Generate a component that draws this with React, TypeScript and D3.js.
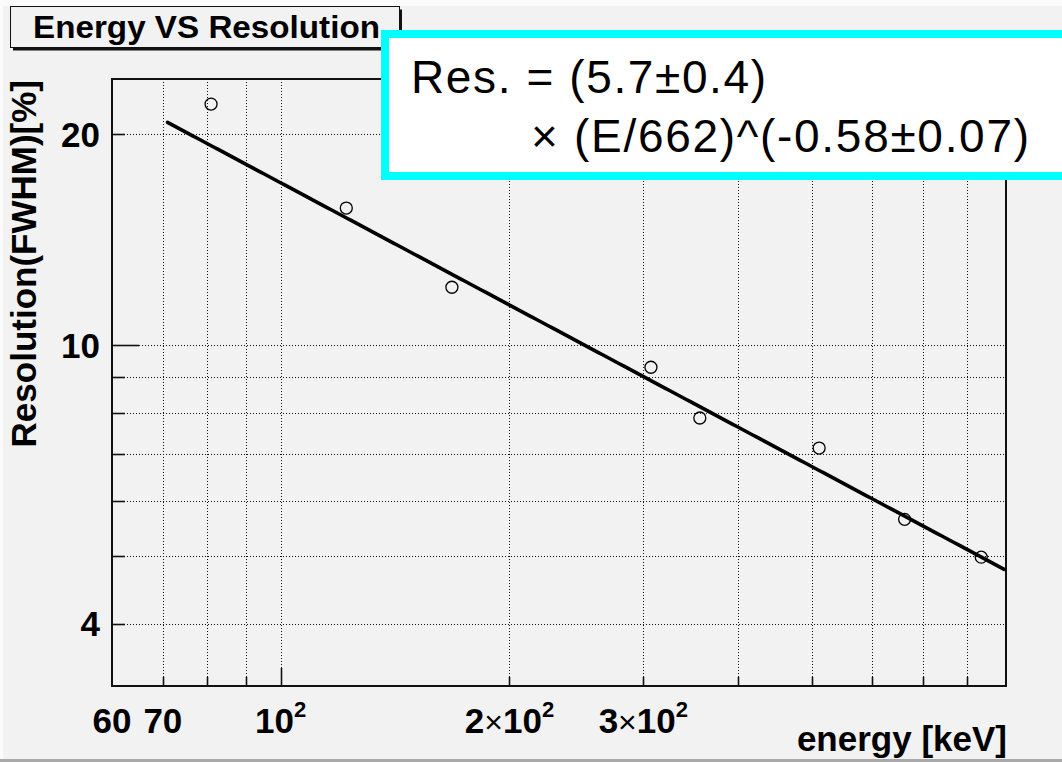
import React, { useEffect, useRef } from "react";
import * as d3 from "d3";

// Measured photo-peak energies [keV] and their resolutions (FWHM, %)
const energies = [81, 122, 168, 307, 356, 511, 662, 835];
const resolutions = [22.1, 15.7, 12.1, 9.3, 7.87, 7.13, 5.64, 4.98];

// Power-law fit: Res = A * (E/E0)^k
const fitA = 5.7;
const fitK = -0.58;
const fitE0 = 662;
const fitRange = [71, 895];

// Axis setup
const xDomain = [60, 900];
const yDomain = [3.26, 24];
const xMinorTicks = [70, 80, 90, 200, 300, 400, 500, 600, 700, 800];
const xMajorTicks = [100];
const yMinorTicks = [4, 5, 6, 7, 8, 9, 20];
const yMajorTicks = [10];
const xTickLabels = [
  { v: 60, parts: [["60", "b"]] },
  { v: 70, parts: [["70", "b"]] },
  { v: 100, parts: [["10", "b"], ["2", "sup"]] },
  { v: 200, parts: [["2", "b"], ["×", "n"], ["10", "b"], ["2", "sup"]] },
  { v: 300, parts: [["3", "b"], ["×", "n"], ["10", "b"], ["2", "sup"]] },
];
const yTickLabels = [
  { v: 20, text: "20" },
  { v: 10, text: "10" },
  { v: 4, text: "4" },
];

const titleText = "Energy VS Resolution";
const xTitle = "energy [keV]";
const yTitle = "Resolution(FWHM)[%]";
const legendLine1 = "Res. = (5.7±0.4)";
const legendLine2 = "× (E/662)^(-0.58±0.07)";

const W = 1062;
const H = 762;
const frame = { left: 112, right: 1006, top: 79, bottom: 686 };
const FONT = "'Liberation Sans', Arial, Helvetica, sans-serif";
const BG = "#f2f2f2";

export default function App() {
  const ref = useRef<SVGSVGElement>(null);

  useEffect(() => {
    const svg = d3.select(ref.current);
    svg.selectAll("*").remove();

    const x = d3.scaleLog().domain(xDomain).range([frame.left, frame.right]);
    const y = d3.scaleLog().domain(yDomain).range([frame.bottom, frame.top]);

    // canvas background with window bevel
    svg.append("rect").attr("width", W).attr("height", H).attr("fill", BG);
    svg.append("rect").attr("width", W).attr("height", 6).attr("fill", "#fbfbfb");
    svg.append("rect").attr("width", 3).attr("height", H).attr("fill", "#fbfbfb");

    // grid
    const grid = svg.append("g").attr("stroke", "#111").attr("stroke-width", 1).attr("stroke-dasharray", "1,2");
    [...xMinorTicks, ...xMajorTicks].forEach((v) => {
      const px = Math.round(x(v)) + 0.5;
      grid.append("line").attr("x1", px).attr("x2", px).attr("y1", frame.top).attr("y2", frame.bottom);
    });
    [...yMinorTicks, ...yMajorTicks].forEach((v) => {
      const py = Math.round(y(v)) + 0.5;
      grid.append("line").attr("x1", frame.left).attr("x2", frame.right).attr("y1", py).attr("y2", py);
    });

    // axis ticks
    const ticks = svg.append("g").attr("stroke", "#111").attr("stroke-width", 1.6);
    xMinorTicks.forEach((v) => {
      const px = Math.round(x(v)) + 0.5;
      ticks.append("line").attr("x1", px).attr("x2", px).attr("y1", frame.bottom).attr("y2", frame.bottom - 9);
    });
    xMajorTicks.forEach((v) => {
      const px = Math.round(x(v)) + 0.5;
      ticks.append("line").attr("x1", px).attr("x2", px).attr("y1", frame.bottom).attr("y2", frame.bottom - 18);
    });
    yMinorTicks.forEach((v) => {
      const py = Math.round(y(v)) + 0.5;
      ticks.append("line").attr("x1", frame.left).attr("x2", frame.left + 13).attr("y1", py).attr("y2", py);
    });
    yMajorTicks.forEach((v) => {
      const py = Math.round(y(v)) + 0.5;
      ticks.append("line").attr("x1", frame.left).attr("x2", frame.left + 27).attr("y1", py).attr("y2", py);
    });

    // frame
    svg
      .append("rect")
      .attr("x", frame.left)
      .attr("y", frame.top)
      .attr("width", frame.right - frame.left)
      .attr("height", frame.bottom - frame.top)
      .attr("fill", "none")
      .attr("stroke", "#111")
      .attr("stroke-width", 2);

    // fit curve
    const fitPts = d3.range(0, 201).map((i) => {
      const e = fitRange[0] * Math.pow(fitRange[1] / fitRange[0], i / 200);
      return [e, fitA * Math.pow(e / fitE0, fitK)] as [number, number];
    });
    svg
      .append("path")
      .attr(
        "d",
        d3
          .line<[number, number]>()
          .x((d) => x(d[0]))
          .y((d) => y(d[1]))(fitPts)
      )
      .attr("fill", "none")
      .attr("stroke", "#000")
      .attr("stroke-width", 3.6)
      .attr("stroke-linecap", "round");

    // data markers
    energies.forEach((e, i) => {
      svg
        .append("circle")
        .attr("cx", x(e))
        .attr("cy", y(resolutions[i]))
        .attr("r", 6)
        .attr("fill", "none")
        .attr("stroke", "#000")
        .attr("stroke-width", 1.3);
    });

    // x tick labels
    xTickLabels.forEach((t) => {
      const txt = svg
        .append("text")
        .attr("x", x(t.v))
        .attr("y", 733)
        .attr("text-anchor", "middle")
        .attr("font-family", FONT)
        .attr("font-size", 35)
        .attr("fill", "#000");
      t.parts.forEach(([s, kind]) => {
        const sp = txt.append("tspan").text(s);
        if (kind === "b") sp.attr("font-weight", "bold");
        if (kind === "n") sp.attr("font-weight", "normal").attr("font-size", 32);
        if (kind === "sup") sp.attr("font-weight", "bold").attr("font-size", 22).attr("dy", -16);
      });
    });

    // y tick labels
    yTickLabels.forEach((t) => {
      svg
        .append("text")
        .attr("x", 100)
        .attr("y", y(t.v) + 12.5)
        .attr("text-anchor", "end")
        .attr("font-family", FONT)
        .attr("font-size", 35)
        .attr("font-weight", "bold")
        .text(t.text);
    });

    // axis titles
    svg
      .append("text")
      .attr("x", 1007)
      .attr("y", 751)
      .attr("text-anchor", "end")
      .attr("font-family", FONT)
      .attr("font-size", 35)
      .attr("font-weight", "bold")
      .text(xTitle);
    svg
      .append("text")
      .attr("transform", "translate(36,80) rotate(-90)")
      .attr("text-anchor", "end")
      .attr("font-family", FONT)
      .attr("font-size", 35)
      .attr("font-weight", "bold")
      .text(yTitle);

    // bottom bevel
    svg.append("rect").attr("y", 759).attr("width", W).attr("height", 3).attr("fill", "#a9a9a9");

    // title box with shadow
    svg.append("rect").attr("x", 13).attr("y", 9.5).attr("width", 389).attr("height", 41).attr("fill", "#111");
    svg
      .append("rect")
      .attr("x", 10.5)
      .attr("y", 6.5)
      .attr("width", 389)
      .attr("height", 41)
      .attr("fill", BG)
      .attr("stroke", "#111")
      .attr("stroke-width", 1);
    svg
      .append("text")
      .attr("x", 33)
      .attr("y", 38)
      .attr("font-family", FONT)
      .attr("font-size", 31)
      .attr("font-weight", "bold")
      .attr("textLength", 347)
      .attr("lengthAdjust", "spacingAndGlyphs")
      .text(titleText);

    // fit legend
    svg
      .append("rect")
      .attr("x", 385)
      .attr("y", 34)
      .attr("width", 700)
      .attr("height", 142)
      .attr("fill", "#fff")
      .attr("stroke", "#00ffff")
      .attr("stroke-width", 8);
    svg
      .append("text")
      .attr("x", 411)
      .attr("y", 93)
      .attr("font-family", FONT)
      .attr("font-size", 46)
      .attr("textLength", 355)
      .attr("lengthAdjust", "spacing")
      .text(legendLine1);
    svg
      .append("text")
      .attr("x", 531)
      .attr("y", 152)
      .attr("font-family", FONT)
      .attr("font-size", 46)
      .attr("textLength", 498)
      .attr("lengthAdjust", "spacing")
      .text(legendLine2);
  }, []);

  return (
    <svg
      ref={ref}
      width={W}
      height={H}
      style={{ position: "absolute", left: 0, top: 0, display: "block" }}
    />
  );
}
